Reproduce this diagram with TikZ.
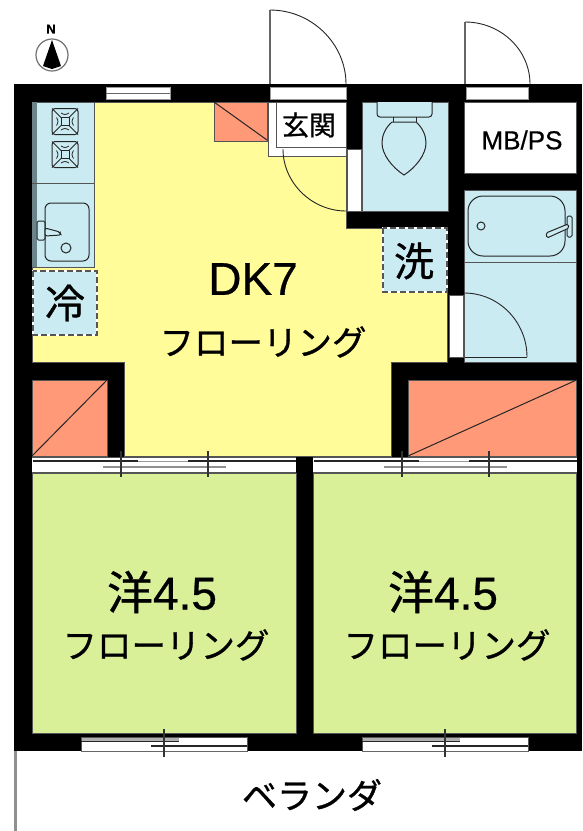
\documentclass[tikz,border=0pt]{standalone}
\usepackage{fontspec}
\setmainfont[FakeBold=0.6]{Liberation Sans}
\newfontfamily\cjk[FakeBold=0.8]{Noto Sans CJK JP}
\newfontfamily\latn[FakeBold=0.6]{Liberation Sans}
\definecolor{roomyellow}{HTML}{FFFC99}
\definecolor{roomblue}{HTML}{CBEBF3}
\definecolor{roomorange}{HTML}{FF9977}
\definecolor{roomgreen}{HTML}{D9F099}
\definecolor{edgegray}{HTML}{555555}
\definecolor{stripgray}{HTML}{6B8389}
\definecolor{railgray}{HTML}{909090}
\newcommand{\fs}[1]{\fontsize{#1}{#1}\selectfont}
\tikzset{
  wallfill/.style={fill=black},
  room/.style={draw=edgegray,line width=0.6pt},
  fixture/.style={draw=black!85,line width=1pt},
  leaf/.style={draw=black!60,line width=1.6pt},
  swing/.style={draw=black!85,line width=0.9pt},
  slot/.style={fill=white,draw=edgegray,line width=0.8pt},
  tickline/.style={draw=black!80,line width=1.1pt},
  label/.style={inner sep=0pt,outer sep=0pt,text=black},
  burner/.pic={
    \draw[fixture,rounded corners=3pt] (-13,-13) rectangle (13,13);
    \draw[fixture] (-4,-4) rectangle (4,4);
    \draw[fixture,line width=.8pt] (-13,-13)--(-4,-4) (13,-13)--(4,-4) (13,13)--(4,4) (-13,13)--(-4,4);
    \draw[fixture,line width=.8pt] (-4,-8.5)..controls (0,-6.5)..(4,-8.5) (-4,8.5)..controls (0,6.5)..(4,8.5)
      (-8.5,-4)..controls (-6.5,0)..(-8.5,4) (8.5,-4)..controls (6.5,0)..(8.5,4);
  },
  sliderA/.pic={
    \fill[white] (0,0) rectangle (264,15);
    \draw[edgegray,line width=.7pt] (0,0)--(264,0) (0,15)--(264,15);
    \draw[black!85,line width=1.1pt] (1,4)--(106,4);
    \draw[black!85,line width=1.1pt] (156,4)--(264,4);
    \draw[railgray,line width=2.6pt] (71,10)--(194,10);
    \draw[black!40,line width=.6pt] (106,4)--(156,4);
    \draw[tickline] (89,-6)--(89,20) (176,-6)--(176,20);
  },
  sliderB/.pic={
    \fill[white] (0,0) rectangle (166,14);
    \fill[railgray!70] (0,0) rectangle (98,4.5);
    \draw[edgegray,line width=.7pt] (0,0) rectangle (166,14);
    \draw[black!85,line width=1.1pt] (70,9)--(166,9);
    \draw[black!85,line width=.9pt] (0,4.5)--(98,4.5);
    \draw[black!60,line width=1pt] (0,14.5)--(166,14.5);
    \draw[tickline] (83,-8)--(83,20);
  }
}
\begin{document}
\begin{tikzpicture}[x=1pt,y=-1pt]
\useasboundingbox (0,0) rectangle (582,831);
\fill[white] (0,0) rectangle (582,831);
% walls
\fill[wallfill] (14,84) rectangle (582,751);
\fill[railgray] (14,751) rectangle (17,831);
% DK
\path[room,fill=roomyellow] (94.5,102)--(268,102)--(268,156)--(346.5,156)--(346.5,228)--(447.5,228)--(447.5,362)--(391,362)--(391,456)--(124,456)--(124,362)--(32,362)--(32,267)--(94.5,267)--cycle;
% kitchen
\path[room,fill=roomblue] (32,102) rectangle (94.5,267);
\fill[stripgray] (32,102) rectangle (37,267);
\draw[room,line width=.9pt] (32,183)--(94.5,183);
\pic at (65,121.5) {burner};
\pic at (65,154.5) {burner};
\draw[fixture,rounded corners=6pt] (45,203) rectangle (89,261);
\draw[fixture] (66,248) circle (5);
\draw[fixture,rounded corners=1.5pt] (37,221) rectangle (45,240);
\draw[fixture,fill=roomblue,rounded corners=2pt] (45,228)--(60,232)--(61,235)--(45,236)--cycle;
% closets
\path[room,fill=roomorange] (214,102) rectangle (267,141);
\draw[fixture] (214,102)--(267,140);
\path[room,fill=roomorange] (32,380) rectangle (107,456);
\draw[fixture] (32,456)--(107,380);
\path[room,fill=roomorange] (408,380) rectangle (576.5,456);
\draw[fixture] (408,456)--(576.5,380);
% entry
\path[slot,draw=edgegray] (268,102) rectangle (346.5,156);
\path[slot,draw=edgegray] (276,102) rectangle (346.5,147);
\node[label] (genkan) at (309,125) {\cjk\fs{27}玄関};
% toilet
\path[room,fill=roomblue] (362,102) rectangle (448,211);
\draw[fixture,fill=roomblue,rounded corners=3pt] (377,102)--(377,117)--(432,117)--(432,102);
\draw[fixture] (393,117)--(393,122) (416,117)--(416,122);
\draw[fixture,fill=roomblue] (392,122)--(416,122)..controls (423,128) and (426,136)..(426,143)..controls (426,155) and (415,168)..(404,175)..controls (393,168) and (382,155)..(382,143)..controls (382,136) and (385,128)..(392,122)--cycle;
% MB/PS
\path[room,fill=white] (464,102) rectangle (576.5,173);
\node[label] (mbps) at (522,140) {\fs{26}MB/PS};
% bath
\path[room,fill=roomblue] (464.5,190) rectangle (576.5,362);
\draw[room,line width=.9pt] (464.5,262)--(576.5,262);
\draw[fixture,rounded corners=15pt] (468,196) rectangle (565,256);
\draw[fixture] (481,226) circle (4);
\draw[fixture,rounded corners=1.5pt] (567,216) rectangle (572,237);
\draw[fixture,fill=roomblue,rounded corners=1.5pt] (546,233)--(568,224)--(569,228)--(547,238)--cycle;
% washer & fridge
\path[fill=roomblue] (383,228) rectangle (447,292);
\draw[white,line width=1.6pt] (383,228) rectangle (447,292);
\draw[edgegray,line width=1.6pt,dash pattern=on 6pt off 3pt] (383,228) rectangle (447,292);
\node[label] (sen) at (414,261) {\cjk\fs{40}洗};
\path[fill=roomblue] (33,271) rectangle (97,335);
\draw[white,line width=1.6pt] (33,271) rectangle (97,335);
\draw[edgegray,line width=1.6pt,dash pattern=on 6pt off 3pt] (33,271) rectangle (97,335);
\node[label] (rei) at (65,303) {\cjk\fs{40}冷};
% interior door slots
\path[slot] (347,149) rectangle (361,211);
\path[slot] (449,295) rectangle (463,357);
% doors
\draw[swing] (283,149)..controls (283,183) and (312,211)..(346,211);
\draw[swing] (464,293)..controls (499,293) and (527,322)..(527,357);
\draw[swing] (464.5,357)--(527,357);
% outer doors
\path[slot,draw=black!40] (270,87) rectangle (346,99);
\path[slot,draw=black!40] (466,87) rectangle (528,99);
\draw[leaf] (270,84)--(270,10);
\draw[swing] (270,10)..controls (312,10) and (346,44)..(346,84);
\draw[leaf] (465,84)--(465,22);
\draw[swing] (465,22)..controls (501,22) and (530,50)..(530,84);
% top window
\path[slot,draw=black!40] (106,87) rectangle (170,99);
\draw[black!60,line width=1pt] (106,93)--(170,93);
% bedrooms
\path[room,fill=roomgreen] (32,473) rectangle (296,733);
\path[room,fill=roomgreen] (313,473) rectangle (576.5,733);
% sliders
\pic at (32,457) {sliderA};
\pic at (313,457) {sliderA};
\pic at (81,737) {sliderB};
\pic at (362,737) {sliderB};
% compass
\draw[black!55,line width=1.2pt] (52,55) circle (16);
\fill[black] (52,40)--(61,66)--(52,69)--(43,66)--cycle;
\node[label] (north) at (51,29) {\fs{13}\bfseries N};
% labels
\node[label] (dk) at (253,279) {\fs{46}DK7};
\node[label] (fl1) at (263,342) {\cjk\fs{34.5}フローリング};
\node[label] (y1) at (162,592) {\cjk\fs{46}洋\latn\fs{46}4.5};
\node[label] (fl2) at (166,645) {\cjk\fs{34.5}フローリング};
\node[label] (y2) at (443,592) {\cjk\fs{46}洋\latn\fs{46}4.5};
\node[label] (fl3) at (447,645) {\cjk\fs{34.5}フローリング};
\node[label] (ver) at (312,795) {\cjk\fs{35}ベランダ};
\end{tikzpicture}
\end{document}
